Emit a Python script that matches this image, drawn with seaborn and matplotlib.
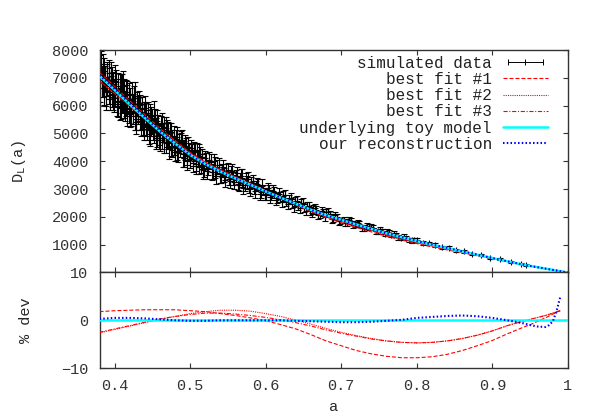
import numpy as np
import pandas as pd
import seaborn as sns
import matplotlib.pyplot as plt
from matplotlib.lines import Line2D
from matplotlib.legend_handler import HandlerLine2D

# =========================
# DATA
# =========================

# curves: scale factor grid
a_grid = [0.38, 0.40, 0.42, 0.44, 0.46, 0.48, 0.50, 0.52, 0.54, 0.56, 0.58, 0.60,
          0.62, 0.64, 0.66, 0.68, 0.70, 0.72, 0.74, 0.76, 0.78, 0.80, 0.82, 0.84,
          0.86, 0.88, 0.90, 0.92, 0.94, 0.95, 0.96, 0.97, 0.975, 0.98, 0.985, 0.99, 1.00]

# underlying toy model D_L(a)
d_model = [7070, 6560, 6050, 5560, 5070, 4640, 4230, 3900, 3630, 3380, 3150, 2915,
           2690, 2475, 2255, 2060, 1895, 1730, 1570, 1410, 1270, 1130, 1000, 880,
           760, 640, 520, 405, 290, 240, 192, 144, 120, 96, 72, 48, 0]

# % deviation from the toy model
dev_fit1 = [1.8, 2.0, 2.1, 2.2, 2.2, 2.2, 2.0, 1.8, 1.4, 1.0, 0.5, -0.1,
            -0.9, -1.8, -3.0, -4.3, -5.3, -6.3, -7.0, -7.5, -7.8, -7.8, -7.6, -7.1,
            -6.3, -5.3, -4.2, -2.8, -1.5, -0.9, -0.2, 0.5, 0.9, 1.3, 1.7, 2.0, np.nan]
dev_fit2 = [-2.6, -1.9, -1.2, -0.5, 0.2, 0.8, 1.4, 1.8, 2.1, 2.1, 1.9, 1.4,
            0.8, 0.0, -0.8, -1.7, -2.5, -3.2, -3.8, -4.3, -4.6, -4.7, -4.6, -4.3,
            -3.8, -3.1, -2.2, -1.1, -0.2, 0.2, 0.6, 1.0, 1.25, 1.5, 1.8, 2.0, np.nan]
dev_fit3 = [-2.5, -1.8, -1.1, -0.4, 0.3, 0.8, 1.2, 1.5, 1.5, 1.3, 1.0, 0.6,
            0.1, -0.5, -1.2, -2.0, -2.7, -3.3, -3.9, -4.3, -4.6, -4.7, -4.6, -4.3,
            -3.8, -3.1, -2.2, -1.1, -0.2, 0.2, 0.6, 1.0, 1.25, 1.5, 1.8, 2.0, np.nan]
dev_recon = [0.3, 0.5, 0.5, 0.4, 0.2, 0.0, -0.1, -0.1, 0.0, 0.0, 0.0, 0.0,
             0.0, -0.1, -0.2, -0.3, -0.4, -0.4, -0.3, -0.1, 0.1, 0.5, 0.7, 0.9,
             1.0, 0.85, 0.5, 0.0, -0.6, -1.0, -1.3, -1.4, -1.0, -0.2, 2.0, 5.0, np.nan]

# simulated data points with error bars
a_data = [0.381, 0.383, 0.384, 0.386, 0.387, 0.389, 0.390, 0.392, 0.393, 0.395, 0.396, 0.398, 0.399,
          0.401, 0.402, 0.404, 0.405, 0.407, 0.408, 0.410, 0.411, 0.413, 0.414, 0.416, 0.417, 0.419,
          0.421, 0.422, 0.424, 0.425, 0.427, 0.428, 0.430, 0.431, 0.433, 0.434, 0.436, 0.437, 0.439,
          0.441, 0.442, 0.444, 0.445, 0.447, 0.448, 0.450, 0.452, 0.453, 0.455, 0.456, 0.458, 0.459,
          0.461, 0.463, 0.464, 0.466, 0.468, 0.469, 0.471, 0.473, 0.475, 0.476, 0.478,
          0.481, 0.483, 0.485, 0.486, 0.488, 0.490, 0.492, 0.494, 0.496, 0.498,
          0.500, 0.502, 0.504, 0.506, 0.508, 0.510, 0.512, 0.514, 0.516, 0.518,
          0.521, 0.524, 0.527, 0.530, 0.533, 0.536, 0.539, 0.542, 0.545, 0.548,
          0.551, 0.554, 0.557, 0.560, 0.563, 0.566, 0.569, 0.572, 0.575, 0.578,
          0.581, 0.584, 0.587, 0.590, 0.594, 0.597, 0.600, 0.604, 0.607,
          0.611, 0.615, 0.619, 0.623, 0.627, 0.631, 0.635, 0.639,
          0.643, 0.647, 0.651, 0.655, 0.659, 0.663, 0.667,
          0.672, 0.676, 0.680, 0.685, 0.689, 0.694, 0.698,
          0.703, 0.708, 0.713, 0.718, 0.724, 0.730, 0.736, 0.742, 0.748, 0.754,
          0.760, 0.766, 0.772, 0.779, 0.786, 0.793, 0.800, 0.808, 0.816,
          0.824, 0.833, 0.842, 0.852, 0.862, 0.873, 0.885, 0.897, 0.910, 0.924, 0.938, 0.944,
          # second pass of points, interleaved
          0.3805, 0.3825, 0.3845, 0.3865, 0.3885, 0.3905, 0.3925, 0.3945, 0.3965, 0.3985,
          0.4005, 0.4025, 0.4045, 0.4065, 0.4085, 0.4105, 0.4125, 0.4145, 0.4165, 0.4185,
          0.4205, 0.4225, 0.4245, 0.4265, 0.4285, 0.4305, 0.4325, 0.4345, 0.4365, 0.4385,
          0.4405, 0.4425, 0.4445, 0.4465, 0.4485, 0.4505, 0.4525, 0.4545, 0.4565, 0.4585,
          0.4605, 0.4625, 0.4655, 0.4675, 0.4705, 0.4725, 0.4745, 0.4765, 0.4785,
          0.4805, 0.4825, 0.4845, 0.4875, 0.4895, 0.4915, 0.4935, 0.4955, 0.4975, 0.4995,
          0.5015, 0.5035, 0.5055, 0.5075, 0.5095, 0.5115, 0.5135, 0.5155, 0.5175, 0.5195,
          0.5225, 0.5255, 0.5285, 0.5315, 0.5345, 0.5375, 0.5405, 0.5435, 0.5465, 0.5495,
          0.5525, 0.5555, 0.5585,
          0.5615, 0.5645, 0.5675, 0.5705, 0.5735, 0.5765, 0.5795, 0.5825, 0.5855, 0.5885,
          0.5925, 0.5955, 0.5985, 0.6025, 0.6055, 0.6095, 0.6135, 0.6175,
          0.6215, 0.6255, 0.6295, 0.6335, 0.6375, 0.6415, 0.6455, 0.6495, 0.6535, 0.6575,
          0.6615, 0.6655, 0.6695, 0.6745, 0.6785, 0.6825, 0.6875, 0.6915, 0.6965,
          0.7055, 0.7105, 0.7155, 0.7215, 0.7275, 0.7335, 0.7395, 0.7455, 0.7515, 0.7575,
          0.7635, 0.7695, 0.7755, 0.7825, 0.7895, 0.7965]
d_data = [7355, 6844, 7388, 6637, 6982, 6481, 7015, 6794, 6499, 7068, 6572, 6761, 6276,
          6414, 6849, 6158, 6493, 6632, 5946, 6435, 6230, 6519, 5983, 6252, 6487, 5896,
          6225, 5741, 6032, 6258, 5739, 5524, 6075, 5821, 5532, 6017, 5598, 5354, 5735,
          5286, 5701, 5482, 5128, 5649, 5274, 5445, 5066, 5542, 5163, 4898, 5299, 4985,
          5289, 4826, 5044, 5221, 4658, 4987, 4774, 5021, 4548, 4766, 4533,
          4800, 4359, 4628, 4467, 4686, 4265, 4424, 4543, 4182, 4351,
          4070, 4347, 4124, 4331, 3908, 4125, 4202, 3879, 3986, 3723,
          4027, 3757, 3977, 3617, 3767, 3807, 3467, 3667, 3497, 3657,
          3378, 3603, 3378, 3473, 3198, 3373, 3398, 3153, 3238, 3043,
          3248, 3023, 3108, 3163, 2886, 2971, 2797, 2960, 2785,
          2879, 2676, 2733, 2759, 2536, 2623, 2470, 2556,
          2383, 2479, 2316, 2373, 2200, 2266, 2253,
          2093, 2160, 2167, 2105, 1962, 2000, 1857,
          1905, 1794, 1843, 1732, 1743, 1604, 1635, 1616, 1477, 1478,
          1470, 1348, 1356, 1247, 1248, 1160, 1163, 1060, 1047,
          996, 907, 893, 798, 763, 662, 620, 528, 475, 371, 321, 280,
          # second pass
          6637, 7486, 6865, 7254, 6343, 6962, 7161, 6370, 6909, 6398,
          6967, 6116, 6575, 5934, 6643, 6742, 6001, 6270, 5749, 6368,
          5688, 6379, 5760, 6331, 5422, 5913, 6104, 5395, 5896, 5217,
          5928, 5169, 5740, 4991, 5552, 5153, 5654, 4855, 5466, 4847,
          4759, 5356, 4701, 5208, 5044, 4471, 5038, 4525, 4922,
          4350, 4889, 4348, 4746, 4775, 4134, 4503, 4012, 4531, 4090,
          4465, 3922, 4349, 3826, 4363, 3840, 4247, 4154, 3681, 4108,
          3646, 4056, 3625, 3995, 3464, 3854, 3474, 3806, 3339, 3681,
          3284, 3646, 3269,
          3563, 3148, 3464, 3049, 3375, 3380, 2996, 3301, 2916, 3190,
          2813, 3128, 2813, 3037, 2713, 2938, 2613, 2838,
          2544, 2791, 2468, 2685, 2352, 2579, 2305, 2501, 2227, 2403,
          2150, 2311, 2082, 2214, 1985, 2169, 1928, 2055, 1844,
          1790, 1878, 1717, 1778, 1600, 1672, 1654, 1484, 1546, 1390,
          1435, 1403, 1262, 1292, 1174, 1185]
d_err = [450, 520, 480, 600, 430, 500, 470, 550, 440, 510, 620, 460, 490,
         470, 430, 560, 450, 500, 420, 690, 460, 440, 520, 480, 410, 530,
         420, 460, 390, 440, 600, 410, 430, 470, 400, 380, 450, 420, 390,
         380, 410, 360, 520, 400, 370, 430, 390, 350, 410, 380, 360, 400,
         350, 380, 340, 370, 360, 480, 330, 350, 340, 370, 320,
         330, 310, 340, 300, 320, 460, 310, 300, 320, 290,
         300, 280, 290, 310, 270, 280, 420, 290, 270, 280,
         260, 250, 270, 240, 380, 250, 260, 240, 250, 230,
         230, 220, 240, 210, 230, 220, 330, 210, 220, 200,
         200, 210, 190, 200, 210, 190, 200, 180, 190,
         180, 170, 180, 170, 160, 170, 160, 150,
         150, 160, 140, 150, 140, 150, 140,
         130, 140, 130, 120, 130, 120, 120,
         110, 120, 110, 100, 110, 100, 100, 95, 100, 90,
         90, 85, 80, 85, 75, 80, 70, 75, 65,
         60, 55, 55, 50, 50, 45, 40, 40, 35, 35, 30, 30,
         # second pass
         520, 480, 560, 450, 500, 610, 470, 530, 490, 540,
         500, 470, 590, 450, 480, 520, 440, 640, 470, 450,
         440, 460, 420, 520, 430, 450, 410, 480, 430, 440,
         420, 400, 380, 440, 410, 390, 520, 400, 380, 410,
         390, 370, 420, 380, 360, 390, 350, 370, 360,
         350, 340, 370, 330, 350, 340, 460, 330, 340, 320,
         310, 300, 330, 290, 300, 310, 280, 290, 300, 280,
         280, 270, 290, 260, 280, 270, 260, 250, 270, 250,
         260, 240, 250,
         240, 230, 250, 230, 220, 240, 230, 220, 230, 220,
         210, 220, 210, 200, 210, 200, 190, 200,
         190, 180, 190, 170, 180, 170, 160, 170, 160, 150,
         160, 150, 140, 140, 130, 140, 130, 120, 130,
         120, 110, 120, 110, 100, 110, 100, 100, 95, 90,
         95, 90, 85, 80, 80, 75]

labels = ["simulated data", "best fit #1", "best fit #2", "best fit #3",
          "underlying toy model", "our reconstruction"]

# =========================
# TABLES
# =========================

curves = pd.DataFrame({"a": a_grid, "model": d_model,
                       "dev1": dev_fit1, "dev2": dev_fit2, "dev3": dev_fit3,
                       "devr": dev_recon})
curves["dev0"] = 0.0
for k in ["1", "2", "3", "r"]:
    curves["fit" + k] = curves["model"] * (1 + curves["dev" + k].fillna(0) / 100)

# =========================
# STYLE
# =========================

sns.set_theme(style="ticks")
plt.rcParams["font.family"] = ["Liberation Mono", "DejaVu Sans Mono"]
plt.rcParams["mathtext.fontset"] = "custom"
plt.rcParams["mathtext.rm"] = "Liberation Mono"
plt.rcParams["lines.scale_dashes"] = False
plt.rcParams["axes.edgecolor"] = "#333333"
plt.rcParams["axes.linewidth"] = 1.0
plt.rcParams["text.color"] = "#222222"
plt.rcParams["xtick.color"] = "#333333"
plt.rcParams["ytick.color"] = "#333333"

RED = "#ff0000"
CYAN = "#00ffff"
BLUE = "#0000ff"
st1 = (0, (2.9, 1.4))
st2 = (0, (0.8, 0.8))
st3 = (0, (3.0, 1.2, 0.8, 1.2))
str_ = (0, (1.1, 1.6))

fig = plt.figure(figsize=(5.98, 4.19), dpi=100)
ax1 = fig.add_axes([0.1664, 0.3501, 0.7834, 0.5305])
ax2 = fig.add_axes([0.1664, 0.1210, 0.7834, 0.2291], sharex=ax1)

# =========================
# TOP PANEL
# =========================

ax1.errorbar(a_data, d_data, yerr=d_err, fmt="+", color="black", ms=4, mew=0.8,
             elinewidth=0.8, capsize=2.0, capthick=0.8, zorder=2)

line_kw = dict(estimator=None, sort=False, legend=False)
sns.lineplot(data=curves, x="a", y="fit1", ax=ax1, color=RED, lw=0.8, linestyle=st1, zorder=3, **line_kw)
sns.lineplot(data=curves, x="a", y="fit2", ax=ax1, color=RED, lw=0.8, linestyle=st2, zorder=3, **line_kw)
sns.lineplot(data=curves, x="a", y="fit3", ax=ax1, color=RED, lw=0.8, linestyle=st3, zorder=3, **line_kw)
sns.lineplot(data=curves, x="a", y="model", ax=ax1, color=CYAN, lw=1.8, zorder=4, **line_kw)
sns.lineplot(data=curves, x="a", y="fitr", ax=ax1, color=BLUE, lw=1.5, linestyle=str_, zorder=5, **line_kw)

ax1.set_xlim(0.38, 1.0)
ax1.set_ylim(10, 8000)
ax1.set_yticks(range(1000, 8001, 1000))
ax1.set_xticks([0.4, 0.5, 0.6, 0.7, 0.8, 0.9, 1.0])
ax1.tick_params(direction="in", top=True, right=True, length=3.6, width=0.8,
                labelbottom=False, labelsize=11, pad=8)
ax1.set_xlabel("")
ax1.set_ylabel(r"D$_\mathregular{L}$(a)", fontsize=11)
ax1.yaxis.set_label_coords(-0.153, 0.5)

handles = [Line2D([], [], color="black", lw=0.7, marker="|", ms=5, mew=0.7),
           Line2D([], [], color=RED, lw=0.8, linestyle=st1),
           Line2D([], [], color=RED, lw=0.8, linestyle=st2),
           Line2D([], [], color=RED, lw=0.8, linestyle=st3),
           Line2D([], [], color=CYAN, lw=1.8),
           Line2D([], [], color=BLUE, lw=1.5, linestyle=str_)]
ax1.legend(handles, labels, loc="upper right", bbox_to_anchor=(0.957, 0.975),
           frameon=False, markerfirst=False, fontsize=11.5, handlelength=2.8,
           handletextpad=0.7, labelspacing=0.08, borderpad=0, borderaxespad=0,
           handler_map={handles[0]: HandlerLine2D(numpoints=3)})

# =========================
# BOTTOM PANEL (% deviation)
# =========================

sns.lineplot(data=curves, x="a", y="dev1", ax=ax2, color=RED, lw=0.8, linestyle=st1, zorder=3, **line_kw)
sns.lineplot(data=curves, x="a", y="dev2", ax=ax2, color=RED, lw=0.8, linestyle=st2, zorder=3, **line_kw)
sns.lineplot(data=curves, x="a", y="dev3", ax=ax2, color=RED, lw=0.8, linestyle=st3, zorder=3, **line_kw)
sns.lineplot(data=curves, x="a", y="dev0", ax=ax2, color=CYAN, lw=1.8, zorder=4, **line_kw)
sns.lineplot(data=curves, x="a", y="devr", ax=ax2, color=BLUE, lw=1.5, linestyle=str_, zorder=5, **line_kw)

ax2.set_xlim(0.38, 1.0)
ax2.set_ylim(-10, 10)
ax2.set_yticks([-10, 0, 10])
ax2.set_xticks([0.4, 0.5, 0.6, 0.7, 0.8, 0.9, 1.0])
ax2.set_xticklabels(["0.4", "0.5", "0.6", "0.7", "0.8", "0.9", "1"])
ax2.tick_params(direction="in", top=True, right=True, length=3.6, width=0.8,
                labelsize=11, pad=8)
ax2.set_xlabel("a", fontsize=11)
ax2.xaxis.set_label_coords(0.5, -0.33)
ax2.set_ylabel("% dev", fontsize=11)
ax2.yaxis.set_label_coords(-0.142, 0.5)

fig.savefig("out.png", dpi=100)
